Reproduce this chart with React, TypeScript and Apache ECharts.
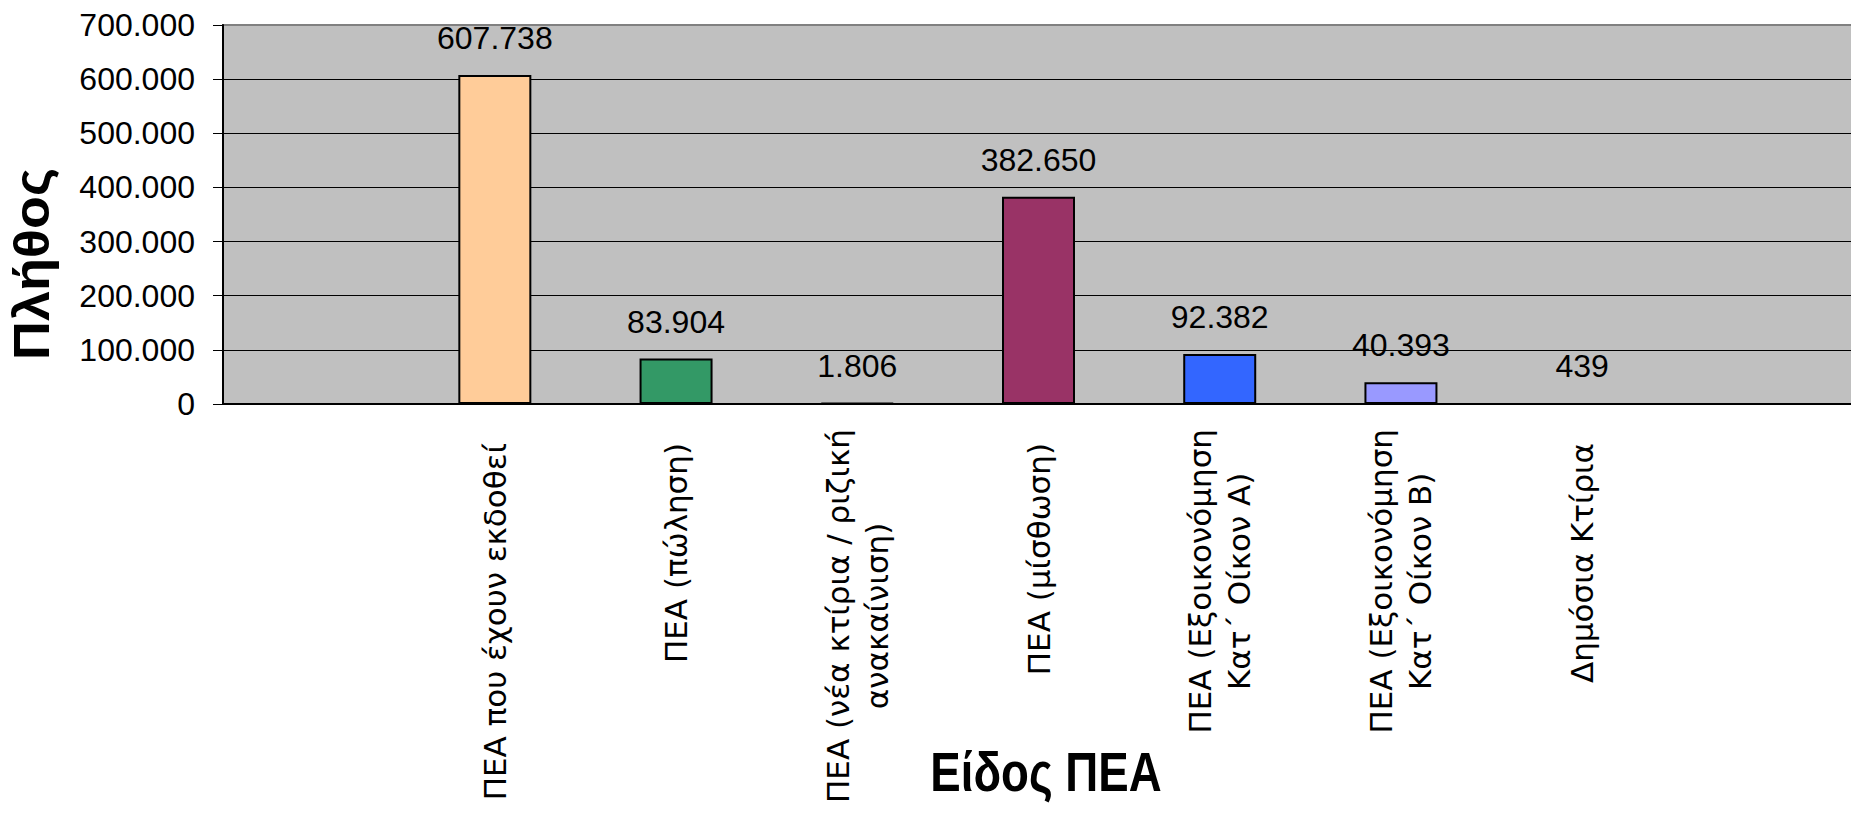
import React, { useEffect, useRef } from 'react';
import * as echarts from 'echarts';

const categories: string[] = [
  '',
  'ΠΕΑ που έχουν εκδοθεί',
  'ΠΕΑ (πώληση)',
  'ΠΕΑ (νέα κτίρια / ριζική\nανακαίνιση)',
  'ΠΕΑ (μίσθωση)',
  'ΠΕΑ (Εξοικονόμηση\nΚατ΄ Οίκον Α)',
  'ΠΕΑ (Εξοικονόμηση\nΚατ΄ Οίκον Β)',
  'Δημόσια Κτίρια',
  '',
];
const values: (number | null)[] = [null, 607738, 83904, 1806, 382650, 92382, 40393, 439, null];
const barColors: (string | null)[] = [null, '#FFCC99', '#339966', '#FFFF99', '#993366', '#3366FF', '#9999FF', '#CC99FF', null];
const yAxisTitle = 'Πλήθος';
const xAxisTitle = 'Είδος ΠΕΑ';

const SANS = "'Liberation Sans', Arial, sans-serif";

const fmt = (v: number) => String(Math.round(v)).replace(/\B(?=(\d{3})+(?!\d))/g, '.');

export default function App() {
  const ref = useRef<HTMLDivElement>(null);
  useEffect(() => {
    document.body.style.margin = '0';
    const chart = echarts.init(ref.current!, null, { renderer: 'svg' });
    chart.setOption({
      animation: false,
      backgroundColor: '#ffffff',
      grid: {
        left: 223,
        top: 25,
        right: -3,
        bottom: 414,
        outerBoundsMode: 'none',
        containLabel: false,
        show: true,
        backgroundColor: '#C0C0C0',
        borderColor: '#808080',
        borderWidth: 2,
      },
      xAxis: {
        type: 'category',
        data: categories,
        axisLine: { lineStyle: { color: '#000', width: 2 } },
        axisTick: { length: 12, lineStyle: { color: '#000', width: 1 } },
        axisLabel: {
          interval: 0,
          rotate: 90,
          margin: 25,
          color: '#000',
          fontFamily: 'DejaVu Sans',
          fontSize: 31,
          formatter: (val: string) => {
            if (!val) return '';
            const lines = val.split('\n');
            const tag = lines.length > 1 ? 'c' : 's';
            return lines.map((l) => `{${tag}|${l}}`).join('\n');
          },
          rich: {
            c: { align: 'center', fontFamily: 'DejaVu Sans', fontSize: 31, lineHeight: 39, color: '#000' },
            s: { align: 'center', fontFamily: 'DejaVu Sans', fontSize: 31, lineHeight: 39, color: '#000', padding: [0, 14, 0, 0] },
          },
        },
        splitLine: { show: false },
      },
      yAxis: {
        type: 'value',
        min: 0,
        max: 700000,
        interval: 100000,
        axisLine: { show: true, lineStyle: { color: '#000', width: 2 } },
        axisTick: { show: true, length: 10, lineStyle: { color: '#000', width: 1 } },
        axisLabel: { margin: 28, formatter: (v: number) => fmt(v), color: '#000', fontFamily: SANS, fontSize: 32 },
        splitLine: { show: true, showMaxLine: false, lineStyle: { color: '#000', width: 1 } },
      },
      series: [
        {
          type: 'bar',
          data: values.map((v, i) => (v == null ? null : { value: v, itemStyle: { color: barColors[i] } })),
          barWidth: 73,
          itemStyle: { borderColor: '#000', borderWidth: 2 },
          label: {
            show: true,
            position: 'top',
            distance: 21,
            formatter: (p: any) => fmt(p.value),
            fontFamily: SANS,
            fontSize: 32,
            color: '#000',
          },
        },
      ],
      graphic: [
        {
          type: 'text',
          x: 32,
          y: 264,
          rotation: Math.PI / 2,
          scaleX: 1.08,
          style: {
            text: yAxisTitle,
            fontFamily: SANS,
            fontWeight: 'bold',
            fontSize: 50,
            fill: '#000',
            align: 'center',
            verticalAlign: 'middle',
          },
        },
        {
          type: 'text',
          x: 1046,
          y: 772,
          scaleX: 0.83,
          style: {
            text: xAxisTitle,
            fontFamily: SANS,
            fontWeight: 'bold',
            fontSize: 55,
            fill: '#000',
            align: 'center',
            verticalAlign: 'middle',
          },
        },
      ],
    });
    return () => chart.dispose();
  }, []);
  return <div ref={ref} style={{ width: 1851, height: 818 }} />;
}
